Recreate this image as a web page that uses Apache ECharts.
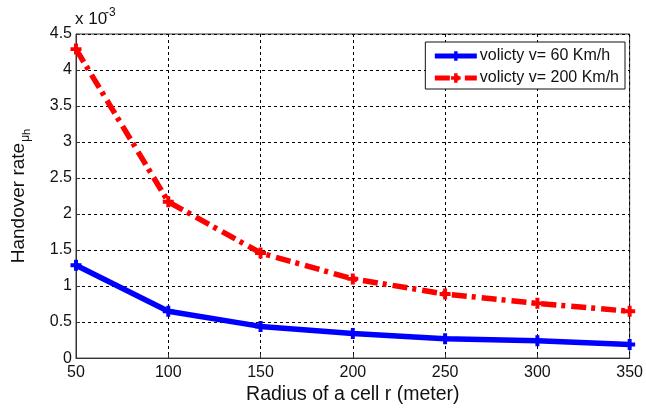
<!DOCTYPE html>
<html>
<head>
<meta charset="utf-8">
<script src="https://cdn.jsdelivr.net/npm/echarts@6/dist/echarts.min.js"></script>
<style>html,body{margin:0;padding:0;background:#fff;}#c{width:646px;height:410px;}</style>
</head>
<body>
<div id="c"></div>
<script>
// Radius of a cell r (meter)
var radius = [50, 100, 150, 200, 250, 300, 350];
// Handover rate, in units of 1e-3
var rate60 = [1.29, 0.65, 0.44, 0.34, 0.27, 0.24, 0.19];
var rate200 = [4.29, 2.17, 1.46, 1.1, 0.89, 0.76, 0.65];
var seriesNames = ['volicty v= 60 Km/h', 'volicty v= 200 Km/h'];

function pairs(xs, ys) { return xs.map(function (x, i) { return [x, ys[i]]; }); }

var FONT = 'Liberation Sans, Arial, sans-serif';
var plus = 'path://M3.2,0 H6.8 V3.2 H10 V6.8 H6.8 V10 H3.2 V6.8 H0 V3.2 H3.2 Z';

var chart = echarts.init(document.getElementById('c'), null, { renderer: 'canvas' });
chart.setOption({
  animation: false,
  backgroundColor: '#fff',
  textStyle: { fontFamily: FONT },
  grid: { left: 76, right: 14, top: 34, bottom: 48, show: true, borderColor: '#333', borderWidth: 1, backgroundColor: 'transparent' },
  xAxis: {
    type: 'value', min: 50, max: 350, interval: 50,
    name: 'Radius of a cell r (meter)', nameLocation: 'middle', nameGap: 25,
    nameTextStyle: { fontSize: 19.5, color: '#111', fontFamily: FONT },
    axisLine: { show: true, lineStyle: { color: '#333', width: 1 } },
    axisTick: { show: true, inside: true, length: 4, lineStyle: { color: '#333' } },
    axisLabel: { fontSize: 16, color: '#111', margin: 6, fontFamily: FONT },
    splitLine: { show: true, lineStyle: { color: '#000', type: [3, 3], width: 1 } }
  },
  yAxis: {
    type: 'value', min: 0, max: 4.5, interval: 0.5,
    name: '{a|Handover rate}{b|μ}{c|h}', nameLocation: 'middle', nameGap: 44,
    nameTextStyle: {
      fontSize: 19, color: '#111', fontFamily: FONT,
      rich: {
        a: { fontSize: 19, color: '#111', fontFamily: FONT, lineHeight: 26, verticalAlign: 'middle' },
        b: { fontSize: 12, color: '#111', fontFamily: FONT, verticalAlign: 'bottom', lineHeight: 12.4, padding: [0, 0, 0, 1] },
        c: { fontSize: 11, color: '#111', fontFamily: FONT, verticalAlign: 'bottom', lineHeight: 11.6 }
      }
    },
    axisLine: { show: true, lineStyle: { color: '#333', width: 1 } },
    axisTick: { show: true, inside: true, length: 4, lineStyle: { color: '#333' } },
    axisLabel: { fontSize: 16, color: '#111', margin: 4, fontFamily: FONT },
    splitLine: { show: true, lineStyle: { color: '#000', type: [3, 3], width: 1 } }
  },
  legend: {
    orient: 'vertical', right: 21, top: 42,
    backgroundColor: '#fff', borderColor: '#111', borderWidth: 1,
    padding: [6, 6, 3, 7], itemGap: 6, itemWidth: 42, itemHeight: 12,
    lineStyle: { width: 5 },
    textStyle: { fontSize: 16, color: '#111', fontFamily: FONT, padding: [0, 0, 0, -2] },
    data: seriesNames
  },
  graphic: [
    { type: 'text', left: 75, top: 11, style: { text: 'x 10', font: '17px ' + FONT, fill: '#111' } },
    { type: 'text', left: 105, top: 7, style: { text: '-3', font: '12px ' + FONT, fill: '#111' } }
  ],
  series: [
    {
      name: seriesNames[0], type: 'line', data: pairs(radius, rate60),
      symbol: plus, symbolSize: 11, showSymbol: true,
      itemStyle: { color: '#0000ff' },
      lineStyle: { color: '#0000ff', width: 5.5 }
    },
    {
      name: seriesNames[1], type: 'line', data: pairs(radius, rate200),
      symbol: plus, symbolSize: 11, showSymbol: true,
      itemStyle: { color: '#ff0000' },
      lineStyle: { color: '#ff0000', width: 5.5, type: [15, 5, 4, 6] }
    }
  ]
});
</script>
</body>
</html>
